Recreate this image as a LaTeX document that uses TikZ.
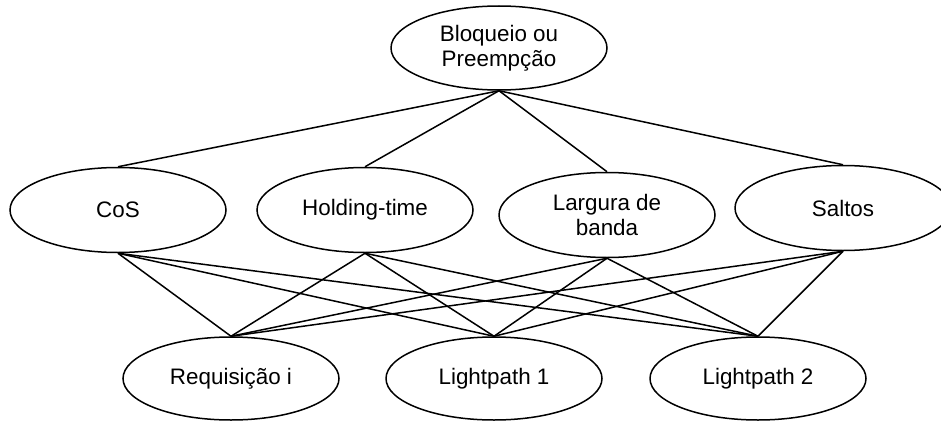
\documentclass[tikz,border=0pt]{standalone}
\usepackage{fontspec}
\setmainfont{Liberation Sans}
\usetikzlibrary{shapes.geometric}
\newlength{\ewidth}
\setlength{\ewidth}{216pt}
\newlength{\eheight}
\setlength{\eheight}{85pt}

\begin{document}
\begin{tikzpicture}[
x=1pt, y=-1pt,
crit/.style={ellipse, draw, line width=1.5pt, minimum width=\ewidth, minimum height=\eheight, inner sep=0pt, align=center, font=\fontsize{22.4}{25}\selectfont}, % basic criterion style
goal/.style={crit, minimum height=84pt}, % top node
alt/.style={crit, minimum height=83pt}, % alternatives
link/.style={line width=1.5pt} % connecting lines
]

\useasboundingbox (0,0) rectangle (941,420);

\node[goal] (bloq) at (499,48) {Bloqueio ou\\Preempção};

\node[crit] (cos) at (118,210) {CoS};
\node[crit] (hold) at (365,210) {Holding-time};
\node[crit] (larg) at (607,215) {Largura de\\banda};
\node[crit] (salt) at (843,208) {Saltos};

\node[alt] (req) at (231,378.5) {Requisição i};
\node[alt] (lp1) at (494,378.5) {Lightpath 1};
\node[alt] (lp2) at (758,378.5) {Lightpath 2};

\draw[link] (bloq.south) -- (cos.north);
\draw[link] (bloq.south) -- (hold.north);
\draw[link] (bloq.south) -- (larg.north);
\draw[link] (bloq.south) -- (salt.north);

\draw[link] (cos.south) -- (req.north);
\draw[link] (cos.south) -- (lp1.north);
\draw[link] (cos.south) -- (lp2.north);
\draw[link] (hold.south) -- (req.north);
\draw[link] (hold.south) -- (lp1.north);
\draw[link] (hold.south) -- (lp2.north);
\draw[link] (larg.south) -- (req.north);
\draw[link] (larg.south) -- (lp1.north);
\draw[link] (larg.south) -- (lp2.north);
\draw[link] (salt.south) -- (req.north);
\draw[link] (salt.south) -- (lp1.north);
\draw[link] (salt.south) -- (lp2.north);

\end{tikzpicture}
\end{document}
